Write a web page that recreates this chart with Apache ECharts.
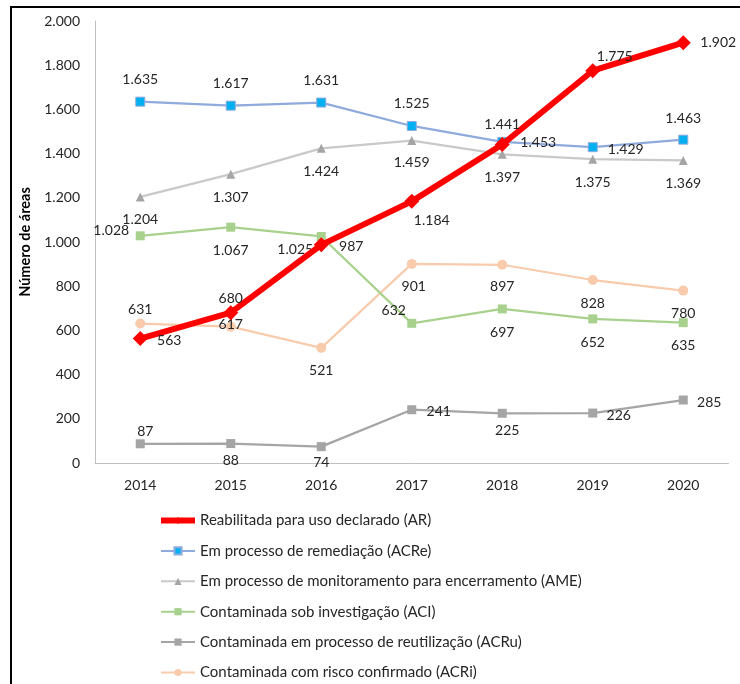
<!DOCTYPE html>
<html>
<head>
<meta charset="utf-8">
<script src="https://cdn.jsdelivr.net/npm/echarts@6/dist/echarts.min.js"></script>
<style>
  html, body { margin: 0; padding: 0; background: #fff; }
  #chart { width: 740px; height: 684px; }
</style>
</head>
<body>
<div id="chart"></div>
<script>
// Anos
const years = ['2014', '2015', '2016', '2017', '2018', '2019', '2020'];

// Número de áreas por classificação
const seriesNames = [
  'Reabilitada para uso declarado (AR)',
  'Em processo de remediação (ACRe)',
  'Em processo de monitoramento para encerramento (AME)',
  'Contaminada sob investigação (ACI)',
  'Contaminada em processo de reutilização (ACRu)',
  'Contaminada com risco confirmado (ACRi)'
];
const valuesAR   = [563, 680, 987, 1184, 1441, 1775, 1902];
const valuesACRe = [1635, 1617, 1631, 1525, 1453, 1429, 1463];
const valuesAME  = [1204, 1307, 1424, 1459, 1397, 1375, 1369];
const valuesACI  = [1028, 1067, 1025, 632, 697, 652, 635];
const valuesACRu = [87, 88, 74, 241, 225, 226, 285];
const valuesACRi = [631, 617, 521, 901, 897, 828, 780];

// Eixo Y
const yMin = 0, yMax = 2000, yStep = 200;

// Deslocamento dos rótulos de dados em relação ao marcador (px)
const offAR   = [[29, 2], [0, -14], [30, 2], [20, 19], [0, -20], [22, -14], [35, 0]];
const offACRe = [[0, -22], [0, -22], [0, -22], [0, -22], [36, 1], [33, 2], [0, -21]];
const offAME  = [[0, 23], [0, 23], [0, 23], [0, 22], [0, 23], [0, 23], [0, 23]];
const offACI  = [[-29, -5], [0, 23], [-26, 13], [-18, -13], [0, 24], [0, 24], [0, 23]];
const offACRu = [[5, -12], [0, 17], [0, 16], [27, 2], [5, 17], [26, 2], [26, 2]];
const offACRi = [[0, -14], [0, -2], [0, 23], [2, 23], [0, 22], [0, 23], [0, 23]];

const FONT = 'Lato';
const TXT = '#262626';

function fmt(v) {
  return String(v).replace(/\B(?=(\d{3})+(?!\d))/g, '.');
}

function withLabels(values, offsets) {
  return values.map((v, i) => ({
    value: v,
    label: { offset: offsets[i] }
  }));
}

function makeSeries(name, values, offsets, opts) {
  return Object.assign({
    name: name,
    type: 'line',
    data: withLabels(values, offsets),
    smooth: false,
    label: {
      show: true,
      position: 'inside',
      color: TXT,
      fontFamily: FONT,
      fontSize: 14,
      textBorderWidth: 0,
      formatter: p => fmt(p.value)
    },
    emphasis: { disabled: true },
    animation: false
  }, opts);
}

const chart = echarts.init(document.getElementById('chart'), null, { renderer: 'canvas' });

const option = {
  backgroundColor: '#ffffff',
  animation: false,
  textStyle: { fontFamily: FONT },
  grid: { left: 95, right: 11.5, top: 21, bottom: 221, containLabel: false },
  xAxis: {
    type: 'category',
    data: years,
    boundaryGap: true,
    axisLine: { show: true, lineStyle: { color: '#bfbfbf', width: 1 } },
    axisTick: { show: false },
    axisLabel: { color: TXT, fontFamily: FONT, fontSize: 14, margin: 15 },
    splitLine: { show: false }
  },
  yAxis: {
    type: 'value',
    min: yMin,
    max: yMax,
    interval: yStep,
    name: 'Número de áreas',
    nameLocation: 'middle',
    nameRotate: 90,
    nameGap: 55,
    nameTextStyle: { color: '#000', fontFamily: FONT, fontSize: 14.5, fontWeight: 'bold' },
    axisLine: { show: true, lineStyle: { color: '#bfbfbf', width: 1 } },
    axisTick: { show: false },
    splitLine: { show: false },
    axisLabel: { color: TXT, fontFamily: FONT, fontSize: 14, margin: 15, formatter: v => fmt(v) }
  },
  legend: {
    orient: 'vertical',
    left: 158,
    top: 513,
    height: 200,
    padding: 0,
    itemWidth: 34,
    itemHeight: 9,
    itemGap: 15.4,
    textStyle: { color: TXT, fontFamily: FONT, fontSize: 15, lineHeight: 14 },
    data: seriesNames.map((n, i) => i === 0
      ? { name: n, lineStyle: { width: 6 } }
      : { name: n })
  },
  graphic: [{
    type: 'rect',
    shape: { x: 11, y: 7, width: 760, height: 700 },
    style: { fill: 'none', stroke: '#000', lineWidth: 2 },
    silent: true,
    z: 100
  }],
  series: [
    makeSeries(seriesNames[0], valuesAR, offAR, {
      z: 10,
      lineStyle: { color: '#ff0000', width: 6 },
      itemStyle: { color: '#ff0000' },
      symbol: 'diamond', symbolSize: 15
    }),
    makeSeries(seriesNames[1], valuesACRe, offACRe, {
      z: 5,
      lineStyle: { color: '#8faadc', width: 2.25 },
      itemStyle: { color: '#00b0f0', borderColor: '#8faadc', borderWidth: 1 },
      symbol: 'rect', symbolSize: 9
    }),
    makeSeries(seriesNames[2], valuesAME, offAME, {
      z: 4,
      lineStyle: { color: '#c9c9c9', width: 2.25 },
      itemStyle: { color: '#a5a5a5' },
      symbol: 'triangle', symbolSize: 9
    }),
    makeSeries(seriesNames[3], valuesACI, offACI, {
      z: 4,
      lineStyle: { color: '#a9d18e', width: 2.25 },
      itemStyle: { color: '#a9d18e' },
      symbol: 'rect', symbolSize: 9
    }),
    makeSeries(seriesNames[4], valuesACRu, offACRu, {
      z: 4,
      lineStyle: { color: '#a5a5a5', width: 2.25 },
      itemStyle: { color: '#a5a5a5' },
      symbol: 'rect', symbolSize: 9
    }),
    makeSeries(seriesNames[5], valuesACRi, offACRi, {
      z: 3,
      lineStyle: { color: '#f8cbad', width: 2.25 },
      itemStyle: { color: '#f8cbad' },
      symbol: 'circle', symbolSize: 10
    })
  ]
};

chart.setOption(option);
</script>
</body>
</html>
